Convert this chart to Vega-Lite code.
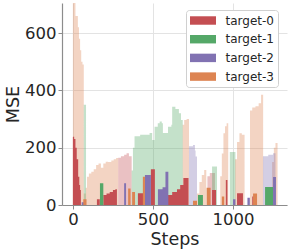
{
  "$schema": "https://vega.github.io/schema/vega-lite/v6.json",
  "width": 225,
  "height": 202,
  "autosize": "none",
  "padding": {"left": 62, "top": 3, "right": 4, "bottom": 46},
  "config": {
    "view": {"stroke": null},
    "font": "DejaVu Sans",
    "axis": {
      "labelFont": "DejaVu Sans", "titleFont": "DejaVu Sans",
      "labelFontSize": 16.5, "titleFontSize": 17.5, "titleFontWeight": "normal",
      "labelColor": "#262626", "titleColor": "#262626",
      "domainColor": "#8c8c8c", "tickColor": "#8c8c8c", "tickSize": 4, "domainWidth": 1.2,
      "gridColor": "#e3e3e3", "gridWidth": 1, "labelPadding": 2
    }
  },
  "data": {"values": [
    {"t":"target-3","k":"l","x":0,"y":800},{"t":"target-3","k":"l","x":16,"y":660},{"t":"target-3","k":"l","x":31,"y":620},{"t":"target-3","k":"l","x":38,"y":580},{"t":"target-3","k":"l","x":45,"y":540},{"t":"target-3","k":"l","x":52,"y":500},{"t":"target-3","k":"l","x":60,"y":490},{"t":"target-3","k":"l","x":68,"y":40},{"t":"target-3","k":"l","x":80,"y":60},{"t":"target-3","k":"l","x":88,"y":99},{"t":"target-3","k":"l","x":100,"y":110},{"t":"target-3","k":"l","x":115,"y":116},{"t":"target-3","k":"l","x":130,"y":125},{"t":"target-3","k":"l","x":145,"y":140},{"t":"target-3","k":"l","x":160,"y":145},{"t":"target-3","k":"l","x":175,"y":130},{"t":"target-3","k":"l","x":190,"y":145},{"t":"target-3","k":"l","x":205,"y":151},{"t":"target-3","k":"l","x":220,"y":150},{"t":"target-3","k":"l","x":240,"y":155},{"t":"target-3","k":"l","x":255,"y":160},{"t":"target-3","k":"l","x":270,"y":164},{"t":"target-3","k":"l","x":283,"y":0},
    {"t":"target-3","k":"l","x":685,"y":280},{"t":"target-3","k":"l","x":695,"y":297},{"t":"target-3","k":"l","x":710,"y":300},{"t":"target-3","k":"l","x":725,"y":0},
    {"t":"target-3","k":"l","x":775,"y":40},{"t":"target-3","k":"l","x":790,"y":80},{"t":"target-3","k":"l","x":805,"y":105},{"t":"target-3","k":"l","x":820,"y":122},{"t":"target-3","k":"l","x":833,"y":0},
    {"t":"target-3","k":"l","x":920,"y":100},{"t":"target-3","k":"l","x":930,"y":180},{"t":"target-3","k":"l","x":940,"y":250},{"t":"target-3","k":"l","x":950,"y":275},{"t":"target-3","k":"l","x":960,"y":285},{"t":"target-3","k":"l","x":970,"y":0},
    {"t":"target-3","k":"l","x":1012,"y":160},{"t":"target-3","k":"l","x":1025,"y":220},{"t":"target-3","k":"l","x":1040,"y":250},{"t":"target-3","k":"l","x":1055,"y":245},{"t":"target-3","k":"l","x":1072,"y":0},
    {"t":"target-3","k":"l","x":1106,"y":330},{"t":"target-3","k":"l","x":1120,"y":340},{"t":"target-3","k":"l","x":1140,"y":345},{"t":"target-3","k":"l","x":1160,"y":355},{"t":"target-3","k":"l","x":1175,"y":385},{"t":"target-3","k":"l","x":1188,"y":0},
    {"t":"target-3","k":"l","x":1244,"y":150},{"t":"target-3","k":"l","x":1255,"y":200},{"t":"target-3","k":"l","x":1265,"y":216},{"t":"target-3","k":"l","x":1278,"y":0},

    {"t":"target-0","k":"l","x":283,"y":165},{"t":"target-0","k":"l","x":300,"y":170},{"t":"target-0","k":"l","x":320,"y":175},{"t":"target-0","k":"l","x":335,"y":181},{"t":"target-0","k":"l","x":350,"y":170},{"t":"target-0","k":"l","x":367,"y":0},{"t":"target-0","k":"l","x":840,"y":100},{"t":"target-0","k":"l","x":855,"y":112},{"t":"target-0","k":"l","x":887,"y":0},

    {"t":"target-1","k":"l","x":68,"y":350},{"t":"target-1","k":"l","x":82,"y":0},{"t":"target-1","k":"l","x":367,"y":120},{"t":"target-1","k":"l","x":375,"y":200},{"t":"target-1","k":"l","x":385,"y":240},{"t":"target-1","k":"l","x":420,"y":245},{"t":"target-1","k":"l","x":470,"y":245},{"t":"target-1","k":"l","x":479,"y":251},{"t":"target-1","k":"l","x":495,"y":227},{"t":"target-1","k":"l","x":510,"y":273},{"t":"target-1","k":"l","x":530,"y":285},{"t":"target-1","k":"l","x":542,"y":291},{"t":"target-1","k":"l","x":555,"y":285},{"t":"target-1","k":"l","x":562,"y":251},{"t":"target-1","k":"l","x":590,"y":251},{"t":"target-1","k":"l","x":594,"y":273},{"t":"target-1","k":"l","x":615,"y":280},{"t":"target-1","k":"l","x":620,"y":343},{"t":"target-1","k":"l","x":640,"y":335},{"t":"target-1","k":"l","x":662,"y":320},{"t":"target-1","k":"l","x":675,"y":297},{"t":"target-1","k":"l","x":686,"y":0},{"t":"target-1","k":"l","x":869,"y":134},{"t":"target-1","k":"l","x":900,"y":0},{"t":"target-1","k":"l","x":980,"y":185},{"t":"target-1","k":"l","x":1015,"y":0},

    {"t":"target-2","k":"l","x":725,"y":205},{"t":"target-2","k":"l","x":750,"y":209},{"t":"target-2","k":"l","x":762,"y":190},{"t":"target-2","k":"l","x":766,"y":169},{"t":"target-2","k":"l","x":775,"y":0},{"t":"target-2","k":"l","x":1187,"y":170},{"t":"target-2","k":"l","x":1220,"y":175},{"t":"target-2","k":"l","x":1250,"y":181},{"t":"target-2","k":"l","x":1265,"y":0},

    {"t":"target-0","k":"d","x":0,"y":238},{"t":"target-0","k":"d","x":8,"y":230},{"t":"target-0","k":"d","x":16,"y":200},{"t":"target-0","k":"d","x":24,"y":160},{"t":"target-0","k":"d","x":33,"y":99},{"t":"target-0","k":"d","x":40,"y":70},{"t":"target-0","k":"d","x":45,"y":52},{"t":"target-0","k":"d","x":50,"y":0},{"t":"target-0","k":"d","x":150,"y":20},{"t":"target-0","k":"d","x":168,"y":0},{"t":"target-0","k":"d","x":190,"y":35},{"t":"target-0","k":"d","x":210,"y":40},{"t":"target-0","k":"d","x":230,"y":45},{"t":"target-0","k":"d","x":250,"y":52},{"t":"target-0","k":"d","x":265,"y":55},{"t":"target-0","k":"d","x":275,"y":0},{"t":"target-0","k":"d","x":406,"y":41},{"t":"target-0","k":"d","x":444,"y":0},{"t":"target-0","k":"d","x":487,"y":125},{"t":"target-0","k":"d","x":512,"y":0},{"t":"target-0","k":"d","x":594,"y":35},{"t":"target-0","k":"d","x":620,"y":45},{"t":"target-0","k":"d","x":650,"y":55},{"t":"target-0","k":"d","x":670,"y":70},{"t":"target-0","k":"d","x":690,"y":94},{"t":"target-0","k":"d","x":722,"y":0},{"t":"target-0","k":"d","x":869,"y":52},{"t":"target-0","k":"d","x":894,"y":0},{"t":"target-0","k":"d","x":955,"y":87},{"t":"target-0","k":"d","x":965,"y":0},{"t":"target-0","k":"d","x":1025,"y":41},{"t":"target-0","k":"d","x":1062,"y":0},{"t":"target-0","k":"d","x":1120,"y":30},{"t":"target-0","k":"d","x":1135,"y":0},

    {"t":"target-1","k":"d","x":169,"y":76},{"t":"target-1","k":"d","x":190,"y":0},{"t":"target-1","k":"d","x":781,"y":35},{"t":"target-1","k":"d","x":812,"y":0},{"t":"target-1","k":"d","x":1200,"y":63},{"t":"target-1","k":"d","x":1250,"y":0},

    {"t":"target-2","k":"d","x":55,"y":10},{"t":"target-2","k":"d","x":75,"y":0},{"t":"target-2","k":"d","x":320,"y":76},{"t":"target-2","k":"d","x":332,"y":0},{"t":"target-2","k":"d","x":450,"y":105},{"t":"target-2","k":"d","x":487,"y":0},{"t":"target-2","k":"d","x":531,"y":55},{"t":"target-2","k":"d","x":560,"y":62},{"t":"target-2","k":"d","x":578,"y":116},{"t":"target-2","k":"d","x":596,"y":0},{"t":"target-2","k":"d","x":1000,"y":20},{"t":"target-2","k":"d","x":1015,"y":0},{"t":"target-2","k":"d","x":1090,"y":25},{"t":"target-2","k":"d","x":1105,"y":0},{"t":"target-2","k":"d","x":1250,"y":98},{"t":"target-2","k":"d","x":1268,"y":0},

    {"t":"target-3","k":"d","x":65,"y":20},{"t":"target-3","k":"d","x":85,"y":0},{"t":"target-3","k":"d","x":345,"y":58},{"t":"target-3","k":"d","x":360,"y":0},{"t":"target-3","k":"d","x":370,"y":45},{"t":"target-3","k":"d","x":388,"y":0},{"t":"target-3","k":"d","x":437,"y":99},{"t":"target-3","k":"d","x":450,"y":0},{"t":"target-3","k":"d","x":750,"y":15},{"t":"target-3","k":"d","x":775,"y":0},{"t":"target-3","k":"d","x":835,"y":60},{"t":"target-3","k":"d","x":860,"y":0},{"t":"target-3","k":"d","x":930,"y":30},{"t":"target-3","k":"d","x":945,"y":0},{"t":"target-3","k":"d","x":1125,"y":40},{"t":"target-3","k":"d","x":1150,"y":0}
  ]},
  "encoding": {
    "x": {"field": "x", "type": "quantitative", "title": "Steps",
      "scale": {"domain": [-68, 1337], "nice": false, "zero": false},
      "axis": {"values": [0, 500, 1000], "format": "d", "titlePadding": 3}},
    "y": {"field": "y", "type": "quantitative", "title": "MSE", "stack": null,
      "scale": {"domain": [0, 705], "nice": false},
      "axis": {"values": [0, 200, 400, 600], "format": "d", "titlePadding": 2}},
    "color": {"field": "t", "type": "nominal",
      "scale": {"domain": ["target-0", "target-1", "target-2", "target-3"], "range": ["#C44E52", "#55A868", "#8172B2", "#DD8452"]},
      "legend": {"title": null, "orient": "none", "legendX": 124, "legendY": 7,
        "symbolType": "M-2,-0.65H2V0.65H-2Z", "symbolSize": 169, "symbolOffset": 6.5, "symbolOpacity": 1, "symbolStrokeWidth": 0,
        "labelFontSize": 12, "labelFont": "DejaVu Sans", "labelColor": "#262626", "labelOffset": 16,
        "rowPadding": 5.7, "padding": 4, "fillColor": "white", "strokeColor": "#d0d0d0", "cornerRadius": 3}}
  },
  "layer": [
    {"transform": [{"filter": "datum.k == 'l'"}], "mark": {"type": "area", "interpolate": "step-after", "opacity": 0.35, "clip": true}},
    {"transform": [{"filter": "datum.k == 'd'"}], "mark": {"type": "area", "interpolate": "step-after", "opacity": 1, "clip": true}}
  ]
}
